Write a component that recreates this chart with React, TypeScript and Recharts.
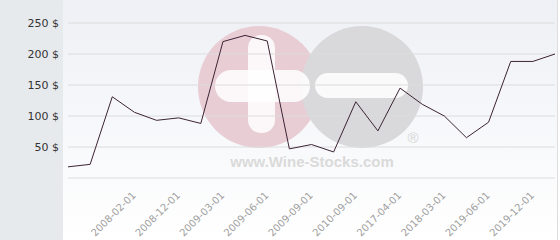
import { LineChart, Line, XAxis, YAxis, CartesianGrid } from "recharts";

const dates = [
  "2007-06-01", "2007-10-01", "2008-01-01", "2008-02-01", "2008-06-01",
  "2008-12-01", "2009-01-01", "2009-03-01", "2009-04-01", "2009-06-01",
  "2009-07-01", "2009-09-01", "2010-03-01", "2010-09-01", "2016-06-01",
  "2017-04-01", "2017-10-01", "2018-03-01", "2018-09-01", "2019-06-01",
  "2019-09-01", "2019-12-01", "2020-03-01",
];
const prices = [
  18, 22, 131, 106, 93, 97, 88, 220, 230, 221, 47, 54, 42, 123, 76,
  145, 119, 100, 65, 90, 188, 188, 200,
];
const shownDates = [
  "2008-02-01", "2008-12-01", "2009-03-01", "2009-06-01", "2009-09-01",
  "2010-09-01", "2017-04-01", "2018-03-01", "2019-06-01", "2019-12-01",
];
const yTicks = [0, 50, 100, 150, 200, 250];

const data = dates.map((d, i) => ({ date: d, price: prices[i] }));

const XTick = ({ x, y, payload }: any) => {
  const ax = x + 2;
  const ay = y + 18;
  return (
    <text x={ax} y={ay} transform={`rotate(-45 ${ax} ${ay})`} textAnchor="end" fontSize={10} fill="#a0a0a0">
      {payload.value}
    </text>
  );
};

const Watermark = () => (
  <svg width={560} height={240} style={{ position: "absolute", left: 0, top: 0 }}>
    <circle cx={259} cy={87} r={61} fill="#e8cdd5" />
    <circle cx={362} cy={87} r={61} fill="#d9d9db" />
    <rect x={248} y={35} width={27} height={98} rx={13} fill="#fff" opacity={0.85} />
    <rect x={215} y={70} width={95} height={32} rx={16} fill="#fff" opacity={0.85} />
    <rect x={315} y={73} width={93} height={25} rx={12.5} fill="#fff" opacity={0.85} />
    <text x={312} y={167} textAnchor="middle" fontSize={15} fontWeight="bold" fill="#dadada" fontFamily="Liberation Sans, Arial, sans-serif">
      www.Wine-Stocks.com
    </text>
    <text x={413} y={143} textAnchor="middle" fontSize={15} fill="#d5d5d5" fontFamily="Liberation Sans, Arial, sans-serif">
      ®
    </text>
  </svg>
);

const App = () => {
  return (
    <div style={{ position: "absolute", left: 0, top: 0, width: 560, height: 240, fontFamily: "DejaVu Sans, sans-serif" }}>
      <div style={{ position: "absolute", left: 0, top: 0, width: 63, height: 240, background: "#e6eaed" }} />
      <div style={{ position: "absolute", left: 63, top: 0, width: 494, height: 240, background: "linear-gradient(#eef0f5, #ffffff)" }} />
      <div style={{ position: "absolute", left: 557, top: 0, width: 1, height: 240, background: "#dedede" }} />
      <Watermark />
      <div style={{ position: "absolute", left: 0, top: 0 }}>
        <LineChart width={560} height={240} data={data} margin={{ top: 23, right: 5, bottom: 0, left: 0 }}>
          <CartesianGrid vertical={false} stroke="#dcdcdc" />
          <XAxis
            dataKey="date"
            ticks={shownDates}
            interval={0}
            height={62}
            axisLine={false}
            tickLine={false}
            tickSize={0}
            tickMargin={0}
            tick={<XTick />}
          />
          <YAxis
            domain={[0, 250]}
            ticks={yTicks}
            width={68}
            axisLine={false}
            tickLine={false}
            tickSize={0}
            tickMargin={9}
            tick={{ fontSize: 11, fill: "#333" }}
            tickFormatter={(v: number) => (v === 0 ? "" : `${v} $`)}
          />
          <Line
            type="linear"
            dataKey="price"
            stroke="#3b2433"
            strokeWidth={1}
            dot={false}
            isAnimationActive={false}
          />
        </LineChart>
      </div>
    </div>
  );
};

export default App;
